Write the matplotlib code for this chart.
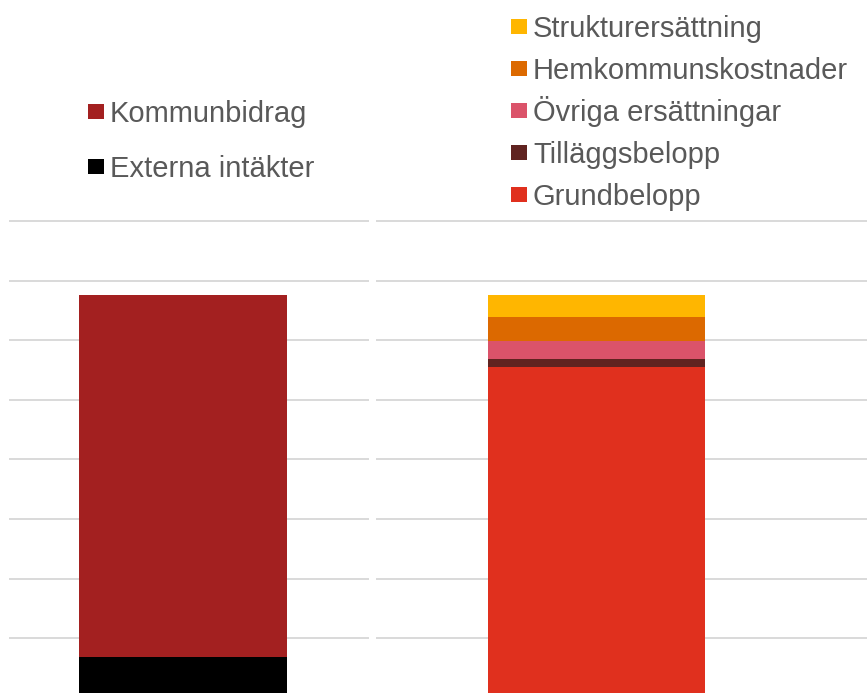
import matplotlib.pyplot as plt
from matplotlib.patches import Rectangle

# vänster stapel: intäkter
left_labels = ['Externa intäkter', 'Kommunbidrag']
left_values = [6.8, 60.8]
left_colors = ['#000000', '#A32020']

# höger stapel: ersättningar
right_labels = ['Grundbelopp', 'Tilläggsbelopp', 'Övriga ersättningar',
                'Hemkommunskostnader', 'Strukturersättning']
right_values = [55.5, 1.4, 2.9, 4.1, 3.7]
right_colors = ['#E0301E', '#602320', '#DB536A', '#DC6900', '#FFB600']

grid_ticks = [10, 20, 30, 40, 50, 60, 70, 80]

W, H = 867, 693
fig = plt.figure(figsize=(W / 100, H / 100), dpi=100)
plt.rcParams['font.family'] = ['Liberation Sans', 'DejaVu Sans']

def px_axes(x0, x1, y0, y1):
    return fig.add_axes([x0 / W, 1 - y1 / H, (x1 - x0) / W, (y1 - y0) / H])

def stack(ax, values, colors, xlim):
    bottom = 0
    for v, c in zip(values, colors):
        ax.bar(0, v, width=0.6, bottom=bottom, color=c, linewidth=0)
        bottom += v
    ax.set_xlim(*xlim)
    ax.set_ylim(0.79, 81)
    ax.set_yticks(grid_ticks)
    ax.set_xticks([])
    ax.tick_params(left=False, labelleft=False)
    ax.grid(axis='y', color='#d9d9d9', linewidth=1.4)
    ax.set_axisbelow(True)
    for s in ax.spines.values():
        s.set_visible(False)

ax1 = px_axes(9, 369, 215, 693)
stack(ax1, left_values, left_colors, (-0.503, 0.537))
ax2 = px_axes(376, 867, 215, 693)
stack(ax2, right_values, right_colors, (-0.611, 0.748))

def legend_row(x, y, label, color):
    # x, y: ruta vänsterkant och textens baslinje i pixlar
    fig.patches.append(Rectangle((x / W, 1 - (y - 3) / H), 16 / W, 15 / H,
                                 transform=fig.transFigure, facecolor=color,
                                 edgecolor='none'))
    fig.text((x + 22) / W, 1 - y / H, label, fontsize=21, color='#595959',
             va='baseline', ha='left')

left_rows = [('Kommunbidrag', '#A32020', 122), ('Externa intäkter', '#000000', 177)]
for lab, col, yb in left_rows:
    legend_row(88, yb, lab, col)

for i, (lab, col) in enumerate(zip(right_labels[::-1], right_colors[::-1])):
    legend_row(511, 37 + i * 42, lab, col)

fig.savefig('out.png', dpi=100)
